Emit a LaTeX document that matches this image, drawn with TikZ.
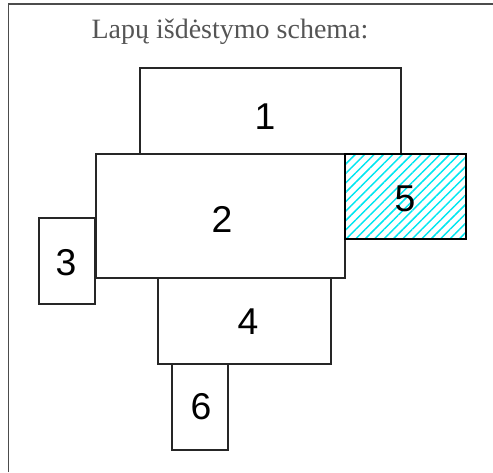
\documentclass[tikz,border=0pt]{standalone}
\usepackage{fontspec}
\setmainfont{Liberation Serif}
\newfontfamily\numfont{Liberation Sans}
\usepackage{tikz}
\usetikzlibrary{patterns.meta}
\definecolor{titlegray}{RGB}{85,85,85}
\definecolor{hatchcyan}{RGB}{0,230,240}

\begin{document}
\begin{tikzpicture}[x=0.75pt,y=-0.75pt]
    \useasboundingbox (0,0) rectangle (493,472);
    \tikzset{sheet/.style={draw=black!85, line width=0.8pt},
             num/.style={font=\numfont\fontsize{28}{28}\selectfont, inner sep=0pt}}
    % frame
    \draw[black!70, line width=1.3pt] (8.5,472) -- (8.5,4) -- (493,4);
    \node[font=\fontsize{21}{21}\selectfont, text=titlegray] (title) at (230,32) {Lapų išdėstymo schema:};
    % sheets
    \draw[sheet] (140,68) rectangle (401,154);
    \draw[sheet] (39,218) rectangle (95,304);
    \draw[sheet] (158,278) rectangle (331,364);
    \draw[sheet] (172,364) rectangle (228,450);
    \draw[sheet] (96,154) rectangle (345,278);
    \fill[pattern={Lines[angle=45,distance=5pt,line width=1.1pt]}, pattern color=hatchcyan] (345,154) rectangle (466,239);
    \draw[black, line width=1.5pt] (345,154) rectangle (466,239);
    % numbers
    \node[num] (n1) at (265,117) {1};
    \node[num] (n2) at (222,219) {2};
    \node[num] (n3) at (66,263) {3};
    \node[num] (n4) at (248,322) {4};
    \node[num] (n5) at (405,199) {5};
    \node[num] (n6) at (201,407) {6};
\end{tikzpicture}
\end{document}
